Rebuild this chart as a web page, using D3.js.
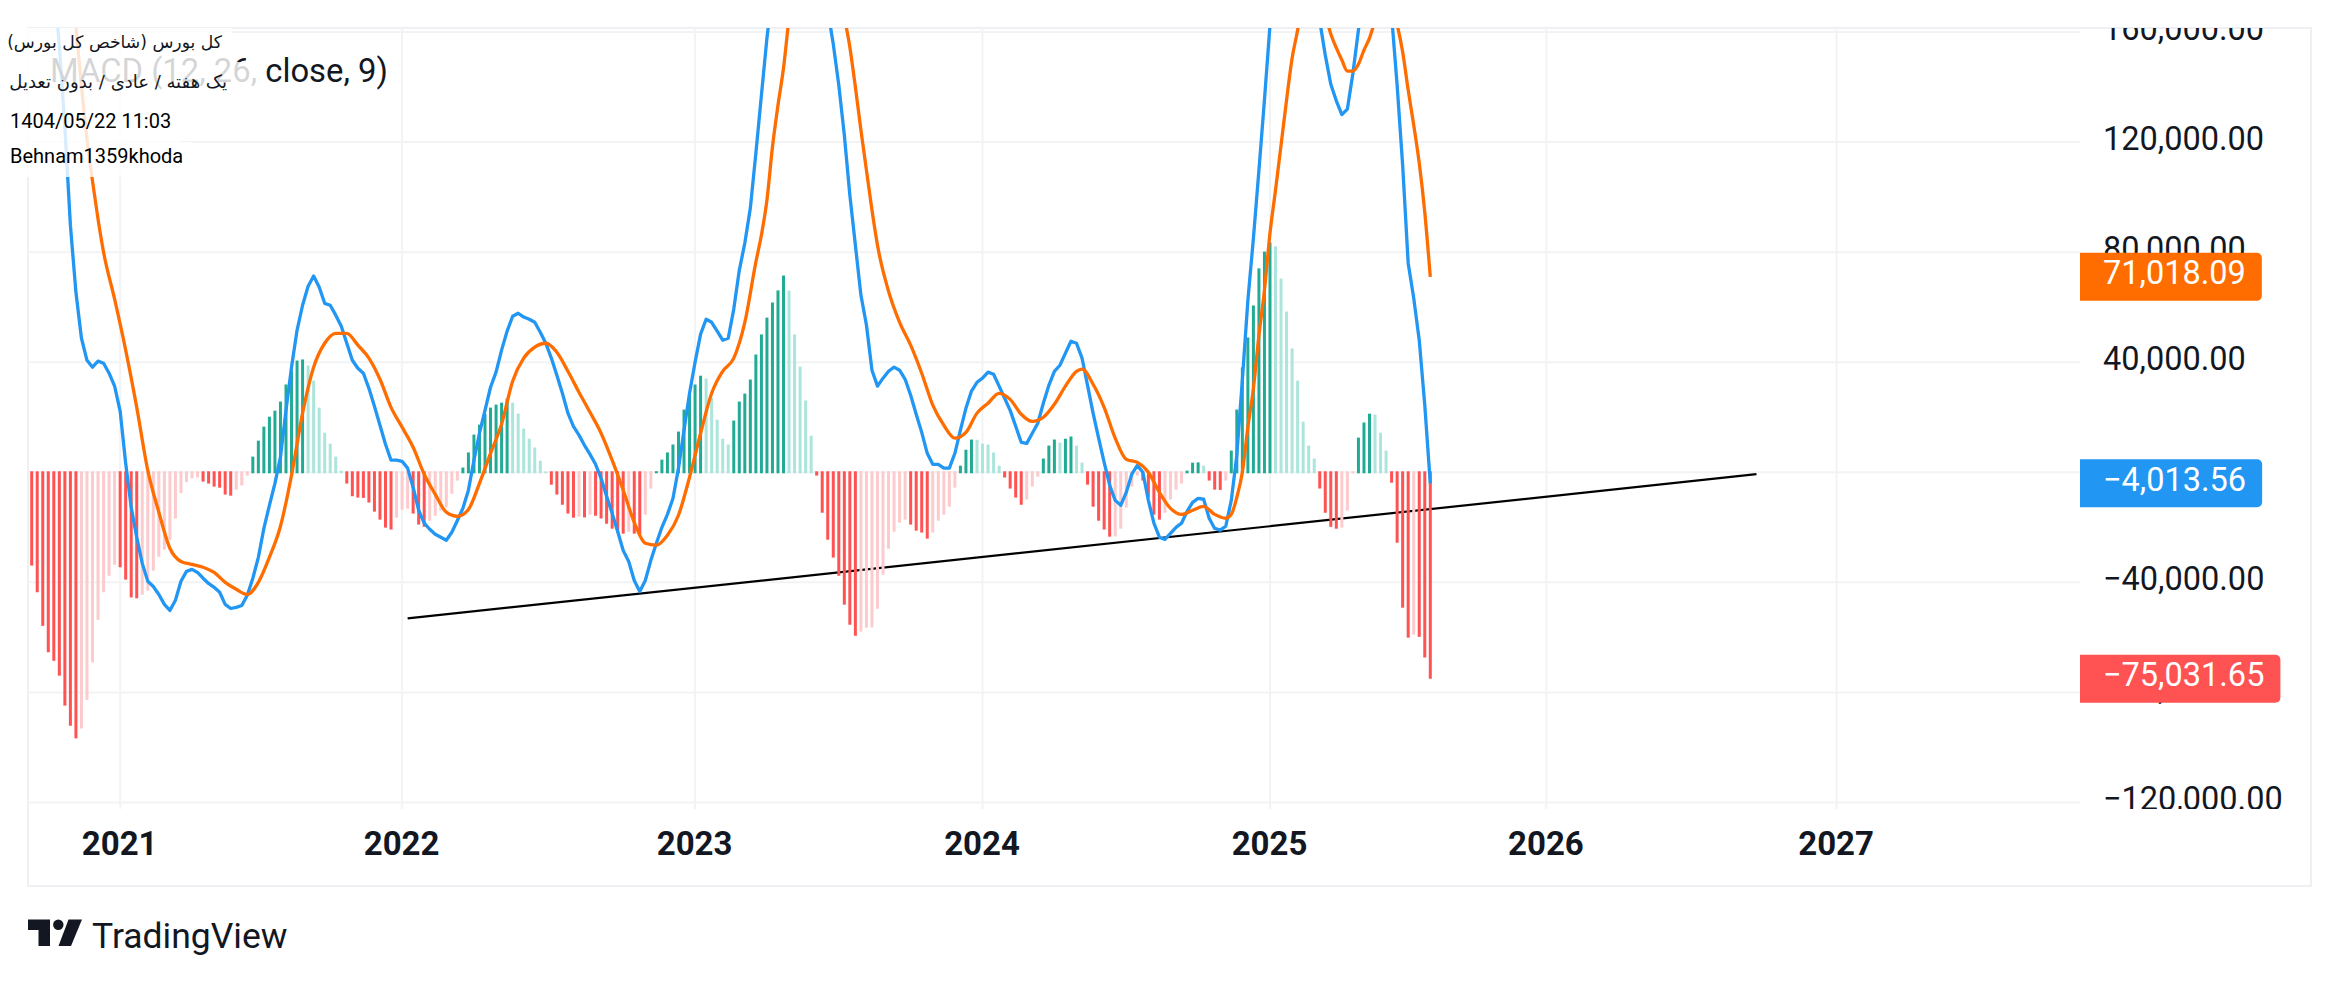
<!DOCTYPE html>
<html>
<head>
<meta charset="utf-8">
<script src="https://cdn.jsdelivr.net/npm/d3@7/dist/d3.min.js"></script>
<style>
  html, body { margin: 0; padding: 0; background: #fff; }
  svg { display: block; }
  text { font-family: Roboto, sans-serif; fill: #131722; }
  .axis path, .axis line { display: none; }
</style>
</head>
<body>
<svg id="chart" width="2339" height="982"></svg>
<script>
// all values in thousands, one bar per week
var histValues = [
  -33.9,-43.6,-55.8,-65.4,-68.5,-73.9,-84.8,-92.1,-96.7,-93.1,-82.7,-69.1,-53.6,-43.6,-37.6,-33.6,-34.5,-39.0,-45.5,-45.8,
  -44.5,-43.0,-35.8,-30.7,-28.1,-24.5,-16.8,-7.6,-3.6,-2.2,-1.9,-3.4,-4.1,-5.2,-5.6,-8.1,-8.5,-6.3,-4.8,-1.2,
  5.7,11.5,16.6,20.2,22.4,25.7,31.9,37.0,40.6,41.0,38.8,33.3,23.5,14.4,10.4,5.7,0.6,
  -4.1,-8.7,-9.2,-9.3,-11.0,-14.3,-17.2,-20.1,-20.8,-16.5,-13.6,-13.2,-15.0,-19.0,-19.8,-17.6,-15.8,-13.9,-12.7,-7.8,-3.0,
  1.7,7.2,13.7,17.3,21.2,23.5,24.6,25.3,26.8,25.3,21.3,15.9,12.2,9.0,4.2,0.3,
  -4.5,-8.1,-11.8,-15.0,-16.5,-16.1,-16.4,-15.4,-15.8,-16.8,-18.7,-20.5,-21.9,-22.3,-21.6,-22.3,-22.4,-15.4,-5.9,
  0.4,4.6,7.2,10.1,14.8,22.8,28.2,31.9,35.1,34.1,27.1,19.1,12.2,10.1,18.8,25.7,28.6,33.7,42.8,50.1,56.2,61.7,66.1,71.5,66.0,50.1,38.4,26.1,13.3,
  -1.2,-14.7,-24.5,-31.0,-37.6,-48.1,-55.4,-59.4,-57.9,-56.5,-56.4,-49.6,-37.2,-27.8,-21.6,-18.3,-17.2,-19.0,-21.2,-21.9,-24.1,-21.9,-17.6,-15.4,-12.5,-5.6,
  2.4,8.2,11.9,11.8,10.4,10.1,7.2,2.4,
  -1.9,-5.9,-9.2,-11.8,-9.9,-5.2,-1.6,
  5.0,9.7,11.9,10.8,12.2,13.0,9.7,3.5,
  -4.5,-12.5,-17.6,-20.8,-23.4,-23.3,-20.5,-12.8,-5.2,-1.2,-3.0,-9.1,-15.4,-17.2,-14.7,-9.9,-6.3,-4.1,
  0.6,3.5,3.6,2.4,
  -3.0,-6.3,-6.4,-3.0,
  7.9,22.8,38.1,49.0,60.6,74.1,80.2,83.5,82.1,70.4,58.4,45.0,33.3,18.4,9.7,5.0,
  -5.9,-14.7,-19.8,-20.5,-20.1,-13.9,-0.4,
  12.6,18.1,21.3,21.0,14.4,7.9,
  -3.8,-25.6,-49.2,-60.1,-59.0,-59.8,-67.3,-75.03
];

var macdBars = [
  4,5,6,7,8,9,10,11,12,13,14,15,16,17,18,19,20,21,22,23,24,25,26,27,28,29,30,31,32,33,34,35,36,37,38,39,40,
  41,42,43,44,45,46,47,48,49,50,51,52,53,54,55,56,57,58,59,60,61,62,63,64,65,66,67,68,69,70,71,72,73,74,75,76,77,78,79,80,
  81,82,83,84,85,86,87,88,89,90,91,92,93,94,95,96,97,98,99,100,101,102,103,104,105,106,107,108,109,110,111,112,113,114,115,116,117,118,119,120,
  121,122,123,124,125,126,127,128,129,130,131,132,133,134,135,137,139,142,144,145,146,147,148,149,150,151,152,153,154,155,156,157,158,159,160,
  161,162,163,164,165,166,167,168,169,170,171,172,173,174,175,176,177,178,179,180,181,182,183,184,185,186,187,188,189,190,191,192,193,194,195,196,197,198,199,200,
  201,202,203,204,205,206,207,208,209,210,211,212,213,214,215,216,217,218,219,220,221,222,223,224,225,227,231,233,234,235,236,237,238,239,240,241,244,246,247,248,249,250,251,252,253
];
var macdValues = [
  178,155,125.4,89.8,65.4,48.7,40.7,38.2,40.4,39.6,36,31.3,22.2,3.3,-12.7,-23.6,-33.1,-39.6,-41.5,-44.4,-48,-50.2,-46.5,-39.6,-36,-35.3,-36.4,-38.5,-40.4,-41.8,-43.6,-48,-49.5,-49.1,-48.4,-44.7,-38.5,
  -30.9,-20.4,-12,-4,5.5,22.5,38.2,51.6,60.7,67.6,71.3,67.3,61.4,60.7,57.1,53.1,46.9,40.7,37.8,36,30.5,24,17.1,10.2,4.4,4.4,4,1.5,-5.5,-13.8,-18.5,-20.7,-22.5,-23.6,-24.7,-21.8,-17.5,-13.1,-6.5,4.4,
  14.2,22.5,30.9,36.4,44.4,51.3,56.7,57.8,56.4,55.6,54.5,50.9,46.9,41.5,35.3,28.7,21.5,16.7,13.5,9.8,6.5,2.9,-2.2,-8.7,-14.9,-21.5,-28.4,-32.4,-39.3,-43.3,-39.3,-32,-25.8,-20,-15.3,-9.5,1.5,15.3,28.7,40,
  50.2,55.6,54.5,51.3,48,48.7,59.3,73.4,83.3,96,116,137,157.8,174.5,184,193,199,188,168,155.6,140.7,122.5,100.7,82.5,64.4,53.5,37.1,31.3,34.2,36.7,38.2,37.1,33.8,28,21.1,
  14.5,6.9,2.9,2.9,1.5,1.5,6.9,15.3,23.3,29.5,32.7,34.2,36.4,35.6,31.3,26.9,22.5,16.7,10.9,10.5,14.2,17.8,25.1,31.6,36.7,38.9,43.3,47.6,46.9,41.5,31.6,21.5,12.4,3.6,-4.7,-10.2,-12,-7.3,-0.7,2.5,
  0,-10.2,-18.5,-23.6,-24.4,-22.2,-20,-18.5,-14.2,-10.9,-9.5,-9.8,-16.7,-20.4,-21,-19.6,-10.2,6.2,33.5,62.5,85,109.8,135.3,162.5,178.9,193,186,164,151.6,141,135,130,132,145,160.7,175,182,166,140.7,111.5,76,63.3,48,24.4,-4.01
];

var signalBars = [
  7,8,9,10,11,12,13,15,17,19,21,23,25,27,29,31,33,35,37,39,41,43,45,47,49,51,53,55,57,59,61,63,65,67,69,71,73,75,77,79,81,83,85,87,89,91,93,95,97,99,
  101,103,105,107,109,111,113,115,117,119,121,123,125,127,129,131,132,133,134,135,136,137,138,140,143,146,147,148,149,150,151,152,153,155,157,159,161,163,165,167,169,171,173,175,
  177,179,181,183,185,187,189,190,192,194,196,198,200,202,204,206,208,210,212,214,216,217,218,219,220,221,222,223,224,225,226,227,228,229,230,232,233,234,235,236,237,238,239,240,241,242,243,245,246,247,248,249,250,251,252,253
];
var signalValues = [
  173,161.4,140.4,121,105.8,92,80,62.9,44.4,23.6,0.7,-14.5,-27.6,-32.4,-33.5,-34.5,-36.4,-40,-42.5,-44.4,-40,-30.9,-19.6,-1.1,21.5,38.2,46.9,50.5,50.5,46.2,41.5,33.8,23.6,16.4,9.1,-0.7,-8,-14.5,-16,-13.5,-4,6.9,17.5,33.1,41.5,45.5,46.9,43.6,36.7,29.1,
  21.8,14.2,4.4,-6.5,-18.2,-25.8,-26.5,-22.9,-15.6,-1.8,14.2,28.7,36.7,41.5,54.5,76.4,86.2,98.9,118.2,133.4,146.9,165,178.9,193,196,180.7,166,154.5,140,124.4,109.8,95.3,82.5,65.8,54.5,46.2,36,24.4,17.1,12.4,14.5,21.5,25.1,28.7,
  26.5,21.1,18.5,20,24.7,31.3,36.7,37.5,32,23.6,12.4,4.7,3.6,0,-7.3,-13.1,-15.3,-13.8,-12.4,-15.3,-16.7,-15.3,-9.1,0,16.4,30.5,49.8,66.2,86.9,102.5,118.9,135.3,150.5,160.7,173.4,178.9,169.8,166,159.3,154.2,149.8,145.8,145.8,148.3,153.4,157.8,164,173,170,162.7,152.7,138.9,126.2,112.4,94.5,71.02
];

var trendBars = [68, 312];
var trendValues = [-53.1, -0.7];

var gridTicks = [160, 120, 80, 40, 0, -40, -80, -120];
// the zero label is not shown on the picture, the blue value label takes its place
var yTicks = [160, 120, 80, 40, -40, -80, -120];
var yearLabels = ["2021", "2022", "2023", "2024", "2025", "2026", "2027"];
var yearBars = [16, 67, 120, 172, 224, 274, 326.5];

var lastLabels = [
  {text: "71,018.09", value: 71.02, color: "#ff6d00"},
  {text: "\u22124,013.56", value: -4.01, color: "#2196f3"},
  {text: "\u221275,031.65", value: -75.03, color: "#ff5252"}
];
var watermark = [
  {text: "کل بورس (شاخص کل بورس)", width: 232, top: 28, bottom: 62},
  {text: "یک هفته / عادی / بدون تعدیل", width: 266, top: 62, bottom: 100},
  {text: "1404/05/22 11:03", width: 180, top: 100, bottom: 142},
  {text: "Behnam1359khoda", width: 193, top: 142, bottom: 177}
];

var paneLeft = 28, paneRight = 2311, paneTop = 28, paneBottom = 886;
var plotRight = 2080, plotBottom = 809;
var grid = "#f2f3f5";

var svg = d3.select("#chart");
var defs = svg.append("defs");
defs.append("clipPath").attr("id", "plotClip").append("rect")
  .attr("x", paneLeft).attr("y", paneTop).attr("width", plotRight - paneLeft).attr("height", plotBottom - paneTop);
defs.append("clipPath").attr("id", "axisClip").append("rect")
  .attr("x", plotRight).attr("y", paneTop).attr("width", paneRight - plotRight).attr("height", plotBottom - paneTop);

var x = d3.scaleLinear().domain([0, 253]).range([31.7, 1430.3]);
var y = d3.scaleLinear().domain([-120, 160]).range([802.5, 32]);

// pane border
svg.append("rect")
  .attr("x", paneLeft).attr("y", paneTop)
  .attr("width", paneRight - paneLeft).attr("height", paneBottom - paneTop)
  .attr("fill", "none").attr("stroke", "#eff0f4").attr("stroke-width", 2);

// grid
svg.append("g").selectAll("line").data(gridTicks).join("line")
  .attr("x1", paneLeft).attr("x2", plotRight)
  .attr("y1", function(d) { return y(d); }).attr("y2", function(d) { return y(d); })
  .attr("stroke", grid).attr("stroke-width", 2);
svg.append("g").selectAll("line").data(yearBars).join("line")
  .attr("x1", function(d) { return x(d); }).attr("x2", function(d) { return x(d); })
  .attr("y1", paneTop).attr("y2", plotBottom)
  .attr("stroke", grid).attr("stroke-width", 2);

var plot = svg.append("g").attr("clip-path", "url(#plotClip)");

// trend line sits under the bars
plot.append("line")
  .attr("x1", x(trendBars[0])).attr("y1", y(trendValues[0]))
  .attr("x2", x(trendBars[1])).attr("y2", y(trendValues[1]))
  .attr("stroke", "#000").attr("stroke-width", 2.2);

// histogram, shade follows whether the bar grew against the one before
var histColor = function(v, i) {
  var prev = i > 0 ? histValues[i - 1] : 0;
  if (v >= 0) return v > prev ? "#22ab94" : "#ace5dc";
  return v < prev ? "#ff5252" : "#fccbcd";
};
plot.append("g").selectAll("rect").data(histValues).join("rect")
  .attr("x", function(d, i) { return x(i) - 1.5; })
  .attr("width", 3)
  .attr("y", function(d) { return d >= 0 ? y(d) : y(0) - 1; })
  .attr("height", function(d) { return d >= 0 ? y(0) - y(d) + 1 : y(d) - y(0) + 1; })
  .attr("fill", histColor);

var line = d3.line()
  .x(function(d) { return x(d[0]); })
  .y(function(d) { return y(d[1]); });

plot.append("path")
  .attr("d", line(d3.zip(macdBars, macdValues)))
  .attr("fill", "none").attr("stroke", "#2196f3").attr("stroke-width", 3.3).attr("stroke-linejoin", "round");
// signal was read every other bar, so it needs the curve to stay as smooth as the original
plot.append("path")
  .attr("d", line.curve(d3.curveMonotoneX)(d3.zip(signalBars, signalValues)))
  .attr("fill", "none").attr("stroke", "#ff6d00").attr("stroke-width", 3.3).attr("stroke-linejoin", "round");

// price axis
var yAxis = d3.axisRight(y)
  .tickValues(yTicks)
  .tickSize(0)
  .tickPadding(23)
  .tickFormat(function(d) { return d3.format(",.2f")(d * 1000); });
var yAxisG = svg.append("g").attr("clip-path", "url(#axisClip)")
  .append("g").attr("class", "axis").attr("transform", "translate(" + plotRight + ",-3)").call(yAxis);
yAxisG.attr("font-family", null).attr("font-size", null);
yAxisG.selectAll("text").style("font-size", "32.5px").style("fill", "#131722");

// time axis
var xAxis = d3.axisBottom(x)
  .tickValues(yearBars)
  .tickSize(0)
  .tickPadding(0)
  .tickFormat(function(d, i) { return yearLabels[i]; });
var xAxisG = svg.append("g").attr("class", "axis").attr("transform", "translate(-1,832)").call(xAxis);
xAxisG.attr("font-family", null).attr("font-size", null);
xAxisG.selectAll("text").style("font-size", "33px").style("font-weight", 700).style("fill", "#131722");

// last value labels
lastLabels.forEach(function(l) {
  var cy = y(l.value);
  var g = svg.append("g");
  var box = g.append("path").attr("fill", l.color);
  var t = g.append("text")
    .attr("x", plotRight + 23).attr("y", cy - 3).attr("dy", "0.32em")
    .style("font-size", "32.5px").style("fill", "#fff")
    .text(l.text);
  var w = t.node().getComputedTextLength() + 39;
  var r = 5;
  box.attr("d", "M" + plotRight + "," + (cy - 24) + "h" + (w - r) + "a" + r + "," + r + " 0 0 1 " + r + "," + r +
    "v" + (48 - 2 * r) + "a" + r + "," + r + " 0 0 1 " + (-r) + "," + r + "h" + (r - w) + "z");
});

// indicator title, then the translucent snapshot header over it
svg.append("text").attr("x", 50).attr("y", 82).style("font-size", "32.8px").text("MACD (12, 26, close, 9)");

svg.append("g").selectAll("rect").data(watermark).join("rect")
  .attr("x", 0).attr("y", function(d) { return d.top; })
  .attr("width", function(d) { return d.width; })
  .attr("height", function(d) { return d.bottom - d.top; })
  .attr("fill", "rgba(255,255,255,0.82)");

svg.append("text").attr("x", 222).attr("y", 48).attr("direction", "rtl")
  .style("font-family", "'DejaVu Sans'").style("font-size", "17.2px").text(watermark[0].text);
svg.append("text").attr("x", 227).attr("y", 88).attr("direction", "rtl")
  .style("font-family", "'DejaVu Sans'").style("font-size", "18px").text(watermark[1].text);
svg.append("text").attr("x", 10).attr("y", 128).style("font-size", "20px").style("fill", "#000").text(watermark[2].text);
svg.append("text").attr("x", 10).attr("y", 163).style("font-size", "20px").style("fill", "#000").text(watermark[3].text);

// logo
var logo = svg.append("g").attr("fill", "#131722");
logo.append("path").attr("d", "M28,919.5H50V946H38.5V930H28Z");
logo.append("circle").attr("cx", 58.3).attr("cy", 924.7).attr("r", 5.2);
logo.append("path").attr("d", "M68.5,919.5H82L71,946H58.5Z");
svg.append("text").attr("x", 92).attr("y", 948).style("font-size", "35.5px").text("TradingView");
</script>
</body>
</html>
